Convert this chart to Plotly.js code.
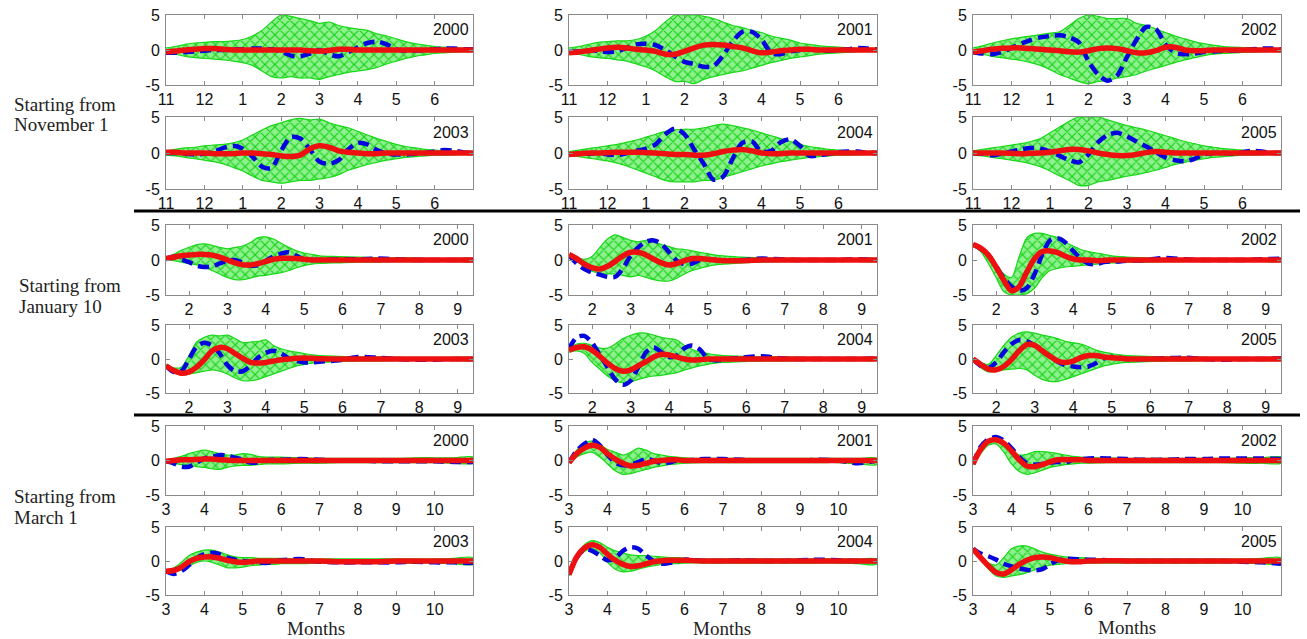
<!DOCTYPE html>
<html><head><meta charset="utf-8">
<script src="https://cdn.plot.ly/plotly-3.0.1.min.js"></script>
<style>html,body{margin:0;padding:0;background:#fff}#c{width:1307px;height:639px}</style>
</head><body><div id="c"></div>
<script>
// sample positions (months)
const xNov=[0,0.25,0.5,0.75,1,1.25,1.5,1.75,2,2.25,2.5,2.75,3,3.25,3.5,3.75,4,4.25,4.5,4.75,5,5.25,5.5,5.75,6,6.25,6.5,6.75,7,7.25,7.5,7.75,8];
const xJan=[1.4,1.6,1.8,2.0,2.2,2.4,2.6,2.8,3.0,3.2,3.4,3.6,3.8,4.0,4.2,4.4,4.6,4.8,5.0,5.2,5.4,5.9,6.4,6.9,7.4,7.9,8.4,8.9,9.4];
const xMar=[3.0,3.2,3.4,3.6,3.8,4.0,4.2,4.4,4.6,4.8,5.0,5.2,5.4,5.6,5.8,6.0,6.5,7.0,7.5,8.0,8.5,9.0,9.5,10.0,10.5,11.0];
// tick labels
const novTickVals=[0,1,2,3,4,5,6,7];
const novTickText=['11','12','1','2','3','4','5','6'];
const janTickVals=[2,3,4,5,6,7,8,9];
const janTickText=['2','3','4','5','6','7','8','9'];
const marTickVals=[3,4,5,6,7,8,9,10];
const marTickText=['3','4','5','6','7','8','9','10'];
const yTickVals=[-5,0,5];
const yTickText=['-5','0','5'];
const years=['2000','2001','2002','2003','2004','2005'];
const groupLabels=[['Starting from','November 1'],['Starting from','January 10'],['Starting from','March 1']];

// ---- Starting from November 1 ----
const red_nov_2000=[-0.3,-0.15,0,0.1,0.2,0.2,0.1,0,0,0,0,0,0,0,0,-0.1,-0.15,-0.05,0.1,0.1,0,0,0,0,0,0,0,0,0,0,0,0,0];
const blue_nov_2000=[-0.4,-0.4,-0.3,-0.2,-0.1,0,0,0.1,0.1,0.2,0.2,0.1,-0.2,-0.8,-0.9,-0.5,0,-0.6,-0.9,-0.3,0.4,1.0,1.2,0.8,0.1,-0.1,-0.1,0,0.1,0.2,0.2,0.1,0.1];
const up_nov_2000=[0.3,0.5,0.8,1.0,1.1,1.2,1.2,1.3,1.5,2,2.8,4,5,4.8,4.5,4.2,3.8,4,3.5,3.2,3,2.8,2.3,2,1.6,1.2,0.9,0.7,0.5,0.4,0.3,0.25,0.2];
const lo_nov_2000=[-0.4,-0.6,-0.9,-1.1,-1.2,-1.3,-1.4,-1.6,-1.8,-2.2,-3,-3.8,-4,-3.8,-4,-4,-4.2,-3.8,-3.5,-3.2,-3,-2.8,-2.5,-2,-1.6,-1.2,-0.9,-0.7,-0.5,-0.4,-0.3,-0.25,-0.2];

const red_nov_2001=[-0.4,-0.3,-0.1,0.1,0.3,0.4,0.3,0.1,0,-0.2,-0.6,-0.6,-0.2,0.3,0.7,0.8,0.7,0.5,0.3,-0.1,-0.4,-0.3,-0.1,0,0.1,0.1,0,0,0,0,0,0,0];
const blue_nov_2001=[-0.3,-0.2,-0.1,-0.1,-0.3,-0.2,0.3,0.8,0.9,0.7,0,-0.9,-1.7,-2.0,-2.4,-2.3,-0.8,1.2,2.6,2.6,1.5,-0.4,-0.6,-0.2,0,0.1,0,-0.1,0,0.1,0.3,0.2,0.1];
const up_nov_2001=[0.3,0.5,0.8,1.1,1.2,1.3,1.3,1.5,2,2.8,4,5,5,5,4.8,4.5,4,3.5,3.2,2.8,2.5,2,1.7,1.4,1,0.8,0.6,0.5,0.4,0.3,0.25,0.2,0.2];
const lo_nov_2001=[-0.4,-0.6,-0.9,-1.1,-1.2,-1.4,-1.6,-2,-2.4,-3,-3.8,-4.5,-4.5,-4.8,-4.2,-3.8,-3.5,-3.2,-3,-2.6,-2.2,-1.8,-1.5,-1.2,-1,-0.8,-0.6,-0.5,-0.4,-0.3,-0.25,-0.2,-0.2];

const red_nov_2002=[-0.3,-0.1,0.1,0.25,0.3,0.3,0.2,0.1,0,-0.1,-0.25,-0.3,-0.1,0.2,0.3,0.2,-0.1,-0.4,-0.4,-0.1,0.4,0.4,0,-0.1,-0.1,0,0,0,0,0,0,0,0];
const blue_nov_2002=[-0.3,-0.5,-0.6,-0.3,0.3,0.9,1.4,1.8,2.0,2.1,1.8,1.1,-1.6,-3.5,-4.4,-3.6,-1.0,1.5,3.3,3.0,0.8,-0.4,-0.6,-0.5,-0.3,-0.2,-0.1,-0.1,0,0.1,0.2,0.2,0.1];
const up_nov_2002=[0.3,0.6,1,1.3,1.6,1.8,2,2.2,2.4,2.6,3.5,4.5,5,4.8,4.5,4.5,4.5,3.8,3.5,3,2.5,2,1.6,1.2,0.9,0.7,0.5,0.4,0.35,0.3,0.25,0.2,0.2];
const lo_nov_2002=[-0.4,-0.6,-0.9,-1.1,-1.3,-1.5,-1.8,-2.2,-2.8,-3.5,-4,-4.5,-4.8,-4.5,-4.3,-4,-3.8,-3.5,-3,-2.6,-2.2,-1.8,-1.4,-1.1,-0.8,-0.6,-0.5,-0.4,-0.35,-0.3,-0.25,-0.2,-0.2];

const red_nov_2003=[0.1,0.1,0,0,0,-0.1,-0.1,-0.1,0,0,-0.1,-0.2,-0.4,-0.5,-0.3,0.6,1.0,0.8,0.3,0.1,0,-0.1,-0.1,0,0,0,0,0,0,0,0,0,0];
const blue_nov_2003=[0,0,-0.1,-0.2,-0.1,0.2,0.7,1.0,0.6,-0.5,-1.9,-2.1,0.3,2.2,2.0,0.5,-1.2,-1.5,-1.0,0.5,1.4,1.2,0.4,-0.1,-0.2,-0.2,-0.1,0,0.2,0.4,0.3,0.1,0];
const up_nov_2003=[0.3,0.5,0.7,0.8,1,1.1,1.2,1.4,1.8,2.5,3.2,3.8,4.2,4.6,4.8,4.6,4.7,4.2,3.8,3.5,3,2.5,2,1.6,1.2,0.9,0.7,0.5,0.4,0.3,0.25,0.2,0.2];
const lo_nov_2003=[-0.3,-0.4,-0.6,-0.8,-1,-1.2,-1.5,-2,-2.5,-3.2,-3.8,-4,-4.2,-4,-3.8,-3.8,-3.6,-3.4,-3,-2.4,-2,-1.6,-1.3,-1,-0.8,-0.6,-0.5,-0.4,-0.3,-0.3,-0.25,-0.2,-0.2];

const red_nov_2004=[-0.2,-0.1,0,0,0.05,0.1,0.1,0.1,0.05,0,-0.1,-0.2,-0.2,-0.3,-0.3,-0.1,0.2,0.4,0.5,0.3,0,-0.1,-0.1,0,0,0,0,0,0,0,0,0,0];
const blue_nov_2004=[-0.2,-0.1,-0.1,0,-0.2,-0.3,0,0.3,0.6,1.2,2.6,3.4,2.6,0.5,-1.5,-3.7,-3.3,-0.8,1.4,1.6,0.2,0.3,1.5,1.9,1.0,-0.4,-0.3,-0.1,0.1,0.2,0.2,0,0];
const up_nov_2004=[0.2,0.4,0.6,0.8,1,1.2,1.5,1.8,2.2,2.6,3,3.2,3.3,3.3,3.5,3.8,4,3.8,3.5,3.2,2.8,2.4,2,1.6,1.2,0.9,0.7,0.5,0.4,0.3,0.25,0.2,0.2];
const lo_nov_2004=[-0.3,-0.5,-0.7,-0.9,-1.1,-1.4,-1.8,-2.3,-2.8,-3.3,-3.8,-4,-4,-4,-3.8,-3.8,-3.4,-3,-2.6,-2.2,-1.8,-1.5,-1.2,-1,-0.8,-0.6,-0.5,-0.4,-0.3,-0.3,-0.25,-0.2,-0.2];

const red_nov_2005=[0,0,0,0,-0.05,-0.1,-0.05,0,0.1,0.3,0.5,0.5,0.3,0,-0.2,-0.35,-0.35,-0.2,0.05,0.2,0.1,0,0,0,0,0,0,0,0,0,0,0,0];
const blue_nov_2005=[0,-0.1,-0.3,-0.1,0.2,0.5,0.7,0.6,0.2,-0.4,-1.0,-1.3,-0.2,1.5,2.5,2.8,2.3,1.6,0.9,0.1,-0.6,-1.0,-1.15,-0.8,-0.2,0,0,-0.1,0.1,0.3,0.2,0,0];
const up_nov_2005=[0.3,0.5,0.7,0.9,1.1,1.3,1.6,2,2.8,3.6,4.4,5,5,5,4.6,4.2,3.8,3.5,3.2,2.8,2.4,2,1.6,1.3,1,0.8,0.6,0.5,0.4,0.3,0.25,0.2,0.2];
const lo_nov_2005=[-0.3,-0.4,-0.6,-0.8,-1,-1.2,-1.5,-1.9,-2.5,-3.2,-3.8,-4.5,-4.5,-4,-3.8,-3.5,-3.2,-3,-2.7,-2.4,-2,-1.6,-1.3,-1,-0.8,-0.6,-0.5,-0.4,-0.3,-0.3,-0.25,-0.2,-0.2];

// ---- Starting from January 10 ----
const red_jan_2000=[0.2,0.4,0.6,0.7,0.8,0.8,0.7,0.4,0,-0.4,-0.7,-0.7,-0.5,-0.2,0.1,0.25,0.25,0.2,0.1,0,0,0,0,0,0,0,0,0,0];
const blue_jan_2000=[0.2,0.45,0.1,-0.3,-0.8,-1.0,-0.9,-0.5,-0.1,0,-0.4,-0.8,-0.7,-0.1,0.5,0.9,1.1,0.6,0.1,0,0,0.1,0.1,0.2,0.1,0,0,0,0];
const up_jan_2000=[0.3,0.8,1.4,1.8,2.2,2.3,2.1,1.8,1.6,1.8,2.0,2.5,3.2,3.3,3.0,2.4,1.8,1.3,1.0,0.8,0.6,0.5,0.4,0.35,0.3,0.3,0.2,0.2,0.2];
const lo_jan_2000=[0.1,-0.1,-0.3,-0.5,-0.7,-1.0,-1.5,-2.0,-2.5,-2.8,-2.8,-2.6,-2.3,-2.2,-2.0,-1.8,-1.5,-1.1,-0.8,-0.6,-0.5,-0.4,-0.3,-0.3,-0.25,-0.25,-0.2,-0.2,-0.2];

const red_jan_2001=[0.8,0.2,-0.6,-1.1,-1.3,-0.9,-0.2,0.6,1.1,1.1,0.7,0.1,-0.4,-0.7,-0.5,-0.1,0.2,0.2,0.1,0,-0.1,-0.1,0,0,0,0,0,0,0];
const blue_jan_2001=[0.7,-0.5,-1.3,-1.8,-2.1,-2.4,-2.4,-1.2,0.6,1.8,2.6,2.8,2.3,1.1,-0.1,-0.6,-0.5,0,0.1,0,-0.1,0,0.2,0.1,0,0,0,0.1,0];
const up_jan_2001=[0.8,0.4,0.1,0.5,1.8,3.0,3.6,3.2,2.8,2.6,2.8,2.6,2.2,1.9,1.6,1.5,1.3,1.1,0.9,0.7,0.6,0.4,0.3,0.25,0.2,0.2,0.2,0.2,0.2];
const lo_jan_2001=[0.6,-0.2,-1.0,-1.6,-1.9,-2.0,-2.0,-2.2,-2.4,-2.2,-2.5,-2.8,-3.0,-3.0,-2.6,-2.0,-1.5,-1.2,-0.9,-0.7,-0.6,-0.4,-0.3,-0.25,-0.2,-0.2,-0.2,-0.2,-0.2];

const red_jan_2002=[2.2,1.7,0.7,-1.0,-2.9,-4.4,-3.8,-1.7,0.2,1.2,1.3,1.05,0.55,0.15,0,0,-0.1,-0.05,0,0,0,0,0,0,0,0,0,0,0];
const blue_jan_2002=[2.2,1.6,0.7,-0.9,-2.6,-3.8,-4.4,-4.0,-2.0,0.8,2.8,3.1,2.5,1.3,0.2,-0.5,-0.6,-0.3,-0.2,-0.2,-0.1,0,0.3,0.1,0,0,0,0.1,0.2];
const up_jan_2002=[2.3,1.9,1.0,-0.5,-2.0,-2.5,0.5,3.2,3.8,3.8,3.5,3.2,2.5,2.0,1.5,1.2,1.0,0.8,0.6,0.5,0.4,0.3,0.2,0.2,0.2,0.2,0.2,0.2,0.2];
const lo_jan_2002=[2.0,1.2,-0.5,-2.5,-4.5,-5,-5,-4.8,-4.0,-2.5,-1.5,-1.2,-1.0,-0.9,-0.8,-0.7,-0.6,-0.5,-0.4,-0.4,-0.3,-0.3,-0.25,-0.2,-0.2,-0.2,-0.2,-0.2,-0.2];

const red_jan_2003=[-1.0,-1.7,-2.1,-1.9,-1.2,-0.1,1.2,1.7,1.5,0.8,0.1,-0.5,-0.6,-0.5,-0.3,-0.1,0,0.1,0.15,0.1,0.05,0,0,0,0,0,0,0,0];
const blue_jan_2003=[-1.0,-1.9,-1.8,0.0,1.8,2.4,2.0,0.8,-0.9,-1.8,-1.8,-1.0,0.2,0.9,1.2,0.8,0.1,-0.3,-0.5,-0.5,-0.4,-0.2,0.3,0.2,0,-0.1,-0.1,0,0];
const up_jan_2003=[-0.8,-1.3,-1.2,0.5,2.5,3.2,3.5,3.4,3.5,3.0,2.4,2.5,2.6,2.8,2.0,1.5,1.2,1.0,0.8,0.6,0.5,0.4,0.3,0.3,0.25,0.2,0.2,0.2,0.2];
const lo_jan_2003=[-1.2,-2.0,-2.3,-2.2,-2.0,-1.8,-1.6,-1.8,-2.2,-2.8,-3.2,-3.2,-3.0,-2.6,-2.2,-1.8,-1.4,-1.0,-0.8,-0.6,-0.5,-0.4,-0.3,-0.3,-0.25,-0.2,-0.2,-0.2,-0.2];

const red_jan_2004=[1.3,1.7,1.8,1.3,0.4,-0.6,-1.4,-1.8,-1.6,-1.0,-0.4,0.3,0.7,0.6,0.3,0,-0.15,-0.1,0,0,0,0,0,0,0,0,0,0,0];
const blue_jan_2004=[1.5,3.2,3.4,2.4,0.6,-1.2,-3.0,-3.8,-3.2,-1.2,1.0,1.7,1.0,0.3,0.5,1.6,2.0,1.4,0.1,-0.2,-0.1,0.2,0.4,0.1,0,0,0,0,0.1];
const up_jan_2004=[1.5,2.2,2.3,2.0,1.6,1.6,2.2,3.0,3.5,3.8,3.8,3.5,3.2,3.0,2.8,2.0,1.4,1.0,0.8,0.6,0.5,0.4,0.3,0.3,0.25,0.2,0.2,0.2,0.2];
const lo_jan_2004=[1.0,1.2,0.8,-0.5,-1.5,-2.5,-3.2,-3.5,-3.4,-3.0,-2.7,-2.5,-2.4,-2.2,-2.0,-1.6,-1.3,-1.0,-0.8,-0.6,-0.5,-0.4,-0.3,-0.3,-0.25,-0.2,-0.2,-0.2,-0.2];

const red_jan_2005=[0,-0.8,-1.5,-1.6,-1.1,-0.1,1.2,2.1,2.0,1.2,0.4,-0.3,-0.5,-0.3,0.2,0.5,0.5,0.3,0.2,0.1,0,0,0,0,0,0,0,0,0];
const blue_jan_2005=[0,-1.0,-1.3,-0.5,1.0,2.2,2.8,2.6,2.0,1.2,0.4,-0.4,-0.9,-1.1,-1.2,-1.1,-0.6,0.1,0.3,0.2,0,0,0.1,0.2,0,-0.1,0,0,0.1];
const up_jan_2005=[0.1,-0.5,-0.8,0.5,2.0,3.2,3.8,4.0,3.8,3.5,3.3,3.0,2.6,2.4,2.2,1.8,1.3,1.0,0.8,0.6,0.5,0.4,0.3,0.3,0.25,0.2,0.2,0.2,0.2];
const lo_jan_2005=[-0.2,-1.3,-1.9,-1.8,-1.6,-1.5,-1.4,-1.6,-2.4,-3.0,-3.3,-3.3,-3.0,-2.6,-2.2,-1.8,-1.4,-1.0,-0.8,-0.6,-0.5,-0.4,-0.3,-0.3,-0.25,-0.2,-0.2,-0.2,-0.2];

// ---- Starting from March 1 ----
const red_mar_2000=[-0.1,0,0.1,0.1,0.15,0.2,0.2,0.1,0.05,0,0,0,0,0,0,0,0,0,0,0,0,0,0,0,0,0];
const blue_mar_2000=[-0.1,-0.4,-0.9,-0.9,-0.3,0.3,0.5,0.8,0.7,0.4,0.1,-0.3,-0.3,0,0.1,0.1,0.2,0.1,0,0,-0.1,-0.1,-0.1,-0.1,-0.2,-0.2];
const up_mar_2000=[0.1,0.3,0.6,1.0,1.3,1.5,1.3,1.0,0.8,0.8,1.0,0.9,0.6,0.5,0.5,0.5,0.4,0.3,0.3,0.3,0.3,0.3,0.4,0.4,0.4,0.5];
const lo_mar_2000=[-0.2,-0.4,-0.6,-0.7,-0.9,-1.0,-1.2,-1.3,-1.0,-0.8,-0.7,-0.7,-0.6,-0.5,-0.5,-0.5,-0.4,-0.4,-0.3,-0.3,-0.3,-0.3,-0.3,-0.3,-0.4,-0.4];

const red_mar_2001=[-0.3,1.0,1.8,2.2,1.9,1.0,0.2,-0.4,-0.8,-0.7,-0.4,-0.1,0,0.1,0.1,0,0,0,0,0,0,0,0,0,0,0];
const blue_mar_2001=[-0.3,1.4,2.4,3.0,2.2,0.8,-0.3,-0.7,-0.6,-0.2,0.2,0,-0.4,-0.3,0,0,0.2,0.2,0.1,0,0,0,0.1,0,-0.4,0];
const up_mar_2001=[-0.2,1.5,2.5,2.8,2.3,1.6,1.2,0.8,1.2,1.8,1.5,1.0,0.8,0.6,0.5,0.4,0.3,0.3,0.3,0.3,0.3,0.3,0.3,0.3,0.3,0.3];
const lo_mar_2001=[-0.4,0.5,1.0,1.2,0.5,-0.5,-1.5,-2.0,-1.9,-1.6,-1.3,-1.0,-0.8,-0.6,-0.5,-0.4,-0.3,-0.3,-0.3,-0.3,-0.3,-0.3,-0.3,-0.3,-0.5,-0.6];

const red_mar_2002=[-0.5,1.6,2.8,3.0,2.5,1.4,0.1,-0.8,-0.9,-0.6,-0.2,0.1,0.15,0.1,0.1,0,0,0,0,0,0,0,0,0,0,0];
const blue_mar_2002=[-0.5,2.0,3.1,3.4,2.9,1.8,0.5,-0.4,-0.6,-0.5,-0.3,-0.2,-0.3,0.1,0.2,0.3,0.3,0.2,0.1,0.1,0.2,0.2,0.3,0.3,0.3,0.2];
const up_mar_2002=[-0.4,1.8,3.0,3.2,2.8,1.6,0.8,0.9,1.3,1.3,1.2,1.0,0.8,0.6,0.5,0.4,0.4,0.3,0.3,0.3,0.3,0.3,0.3,0.4,0.4,0.5];
const lo_mar_2002=[-0.6,1.0,2.2,2.4,1.2,-0.5,-1.6,-2.0,-1.8,-1.4,-1.0,-0.8,-0.6,-0.5,-0.4,-0.4,-0.3,-0.3,-0.3,-0.3,-0.3,-0.3,-0.3,-0.4,-0.4,-0.4];

const red_mar_2003=[-1.5,-1.4,-0.9,-0.1,0.4,0.6,0.6,0.4,0.1,-0.1,-0.2,-0.1,0,0,0,0,0,0,-0.1,-0.1,-0.1,0,0,0,0,0];
const blue_mar_2003=[-1.5,-1.9,-1.5,-0.6,0.4,1.0,1.2,1.0,0.5,0.2,0,-0.1,-0.2,-0.3,-0.1,0.1,0.3,-0.1,-0.2,-0.2,-0.2,-0.2,-0.1,-0.2,-0.2,-0.3];
const up_mar_2003=[-1.4,-1.0,-0.2,0.8,1.3,1.6,1.6,1.3,0.9,0.6,0.5,0.5,0.4,0.4,0.4,0.4,0.3,0.3,0.3,0.3,0.3,0.3,0.3,0.3,0.4,0.5];
const lo_mar_2003=[-1.8,-1.6,-1.3,-0.7,-0.2,0,-0.2,-0.6,-1.0,-1.0,-0.9,-0.7,-0.6,-0.5,-0.5,-0.4,-0.4,-0.3,-0.3,-0.3,-0.3,-0.3,-0.3,-0.3,-0.4,-0.5];

const red_mar_2004=[-2.0,0.6,1.9,2.4,2.0,1.0,0.1,-0.5,-0.8,-0.7,-0.4,-0.1,0.05,0.1,0.1,0.1,0,0,0,0,0,0,0,0,0,0];
const blue_mar_2004=[-2.0,0.5,1.7,1.5,0.8,0.1,0.4,1.5,2.0,1.8,0.8,0,-0.4,-0.3,-0.1,0.2,0,0,0.1,0,0,0.1,0.2,0.1,0,0];
const up_mar_2004=[-1.8,1.0,2.4,3.0,2.7,2.0,1.5,1.2,0.9,0.8,0.8,0.7,0.6,0.5,0.5,0.4,0.3,0.3,0.3,0.3,0.3,0.3,0.3,0.3,0.3,0.3];
const lo_mar_2004=[-2.2,0.2,1.4,1.8,1.2,-0.2,-1.2,-1.6,-1.5,-1.2,-0.9,-0.7,-0.5,-0.4,-0.4,-0.3,-0.3,-0.3,-0.3,-0.3,-0.3,-0.3,-0.3,-0.3,-0.4,-0.5];

const red_mar_2005=[1.8,0.5,-0.7,-1.7,-1.9,-1.3,-0.5,0.1,0.5,0.6,0.5,0.2,0,-0.1,-0.1,0,0.05,0,0,0,0,0,0,0,0,0];
const blue_mar_2005=[1.8,1.1,0.7,0.2,-0.4,-0.8,-1.1,-1.3,-1.4,-1.2,-0.5,0.1,0.3,0.3,0.2,0.2,0.1,0,0,0,0,0,0,-0.1,-0.2,-0.4];
const up_mar_2005=[1.9,0.6,-0.3,-0.6,0.5,1.8,2.2,2.2,1.8,1.3,1.0,0.8,0.6,0.5,0.5,0.4,0.3,0.3,0.3,0.3,0.3,0.3,0.3,0.3,0.4,0.5];
const lo_mar_2005=[1.7,0.2,-1.2,-2.2,-2.4,-2.2,-2.0,-1.7,-1.3,-0.9,-0.6,-0.5,-0.4,-0.4,-0.3,-0.3,-0.3,-0.3,-0.3,-0.3,-0.3,-0.3,-0.3,-0.3,-0.4,-0.4];

// ---- assembly ----
const groups={
  nov:{x:xNov,range:[0,8],tv:novTickVals,tt:novTickText},
  jan:{x:xJan,range:[1.4,9.4],tv:janTickVals,tt:janTickText},
  mar:{x:xMar,range:[3,11],tv:marTickVals,tt:marTickText}
};
const panels=[
  ['nov',red_nov_2000,blue_nov_2000,up_nov_2000,lo_nov_2000],
  ['nov',red_nov_2001,blue_nov_2001,up_nov_2001,lo_nov_2001],
  ['nov',red_nov_2002,blue_nov_2002,up_nov_2002,lo_nov_2002],
  ['nov',red_nov_2003,blue_nov_2003,up_nov_2003,lo_nov_2003],
  ['nov',red_nov_2004,blue_nov_2004,up_nov_2004,lo_nov_2004],
  ['nov',red_nov_2005,blue_nov_2005,up_nov_2005,lo_nov_2005],
  ['jan',red_jan_2000,blue_jan_2000,up_jan_2000,lo_jan_2000],
  ['jan',red_jan_2001,blue_jan_2001,up_jan_2001,lo_jan_2001],
  ['jan',red_jan_2002,blue_jan_2002,up_jan_2002,lo_jan_2002],
  ['jan',red_jan_2003,blue_jan_2003,up_jan_2003,lo_jan_2003],
  ['jan',red_jan_2004,blue_jan_2004,up_jan_2004,lo_jan_2004],
  ['jan',red_jan_2005,blue_jan_2005,up_jan_2005,lo_jan_2005],
  ['mar',red_mar_2000,blue_mar_2000,up_mar_2000,lo_mar_2000],
  ['mar',red_mar_2001,blue_mar_2001,up_mar_2001,lo_mar_2001],
  ['mar',red_mar_2002,blue_mar_2002,up_mar_2002,lo_mar_2002],
  ['mar',red_mar_2003,blue_mar_2003,up_mar_2003,lo_mar_2003],
  ['mar',red_mar_2004,blue_mar_2004,up_mar_2004,lo_mar_2004],
  ['mar',red_mar_2005,blue_mar_2005,up_mar_2005,lo_mar_2005]
];

const W=1307,H=639;
const colL=[166,569,973], colR=[473,877,1281];
const rowT=[15,117,225,325,426,527], rowB=[85,189,295,393,495,595];

const data=[];
const layout={width:W,height:H,margin:{l:0,r:0,t:0,b:0},autosize:false,
  paper_bgcolor:'#fff',plot_bgcolor:'#fff',showlegend:false,
  annotations:[],shapes:[]};
const sans='"Liberation Sans", Arial, sans-serif';
const serif='"Liberation Serif", "Times New Roman", serif';
const tickFont={family:sans,size:16,color:'#111'};

panels.forEach((p,k)=>{
  const g=groups[p[0]];
  const r=Math.floor(k/3), c=k%3;
  const n=k+1, xa='x'+(n===1?'':n), ya='y'+(n===1?'':n);
  const xk='xaxis'+(n===1?'':n), yk='yaxis'+(n===1?'':n);
  const red=p[1], blue=p[2], up=p[3], lo=p[4];
  const xs=g.x;
  data.push({x:xs.concat(xs.slice().reverse()), y:up.concat(lo.slice().reverse()),
    xaxis:xa,yaxis:ya,type:'scatter',mode:'lines',fill:'toself',
    fillcolor:'rgba(100,235,100,0.8)',
    fillpattern:{shape:'x',fgcolor:'#12d012',bgcolor:'rgba(130,240,130,0.9)',size:7,solidity:0.3},
    line:{color:'#18d818',width:1.2,shape:'spline',smoothing:0.8},hoverinfo:'skip'});
  data.push({x:xs,y:blue,xaxis:xa,yaxis:ya,type:'scatter',mode:'lines',
    line:{color:'#0505dd',width:4.5,dash:'11px,6px',shape:'spline',smoothing:0.8},hoverinfo:'skip'});
  data.push({x:xs,y:red,xaxis:xa,yaxis:ya,type:'scatter',mode:'lines',
    line:{color:'#ee1010',width:5.5,shape:'spline',smoothing:0.8},hoverinfo:'skip'});
  const axCommon={showline:true,mirror:'ticks',linecolor:'#8a8a8a',linewidth:1,
    ticks:'inside',ticklen:4,tickcolor:'#8a8a8a',showgrid:false,zeroline:false,
    tickfont:tickFont,fixedrange:true};
  layout[xk]=Object.assign({},axCommon,{domain:[colL[c]/W,colR[c]/W],anchor:ya,
    range:g.range,tickmode:'array',tickvals:g.tv,ticktext:g.tt,ticklabelstandoff:0});
  layout[yk]=Object.assign({},axCommon,{domain:[1-rowB[r]/H,1-rowT[r]/H],anchor:xa,
    range:[-5,5],tickmode:'array',tickvals:yTickVals,ticktext:yTickText,ticklabelstandoff:2});
  layout.annotations.push({xref:xa+' domain',yref:ya+' domain',x:0.995,y:0.79,
    xanchor:'right',yanchor:'middle',showarrow:false,text:years[(r%2)*3+c],
    font:{family:sans,size:16,color:'#111'}});
});

// row group labels (two lines each)
const labelY=[[104,125],[285,306],[496,517]], labelX=[12,17,12];
groupLabels.forEach((lines,i)=>{
  lines.forEach((t,j)=>{
    layout.annotations.push({xref:'paper',yref:'paper',x:labelX[i]/W,y:1-labelY[i][j]/H,
      xanchor:'left',yanchor:'middle',align:'left',showarrow:false,text:t,
      font:{family:serif,size:19,color:'#222'}});
  });
});
// x-axis titles
const monthsX=[316,722,1127], monthsY=[628,628,627];
monthsX.forEach((mx,i)=>{
  layout.annotations.push({xref:'paper',yref:'paper',x:mx/W,y:1-monthsY[i]/H,
    xanchor:'center',yanchor:'middle',showarrow:false,text:'Months',
    font:{family:serif,size:19,color:'#222'}});
});
// separators
[211,415].forEach(yy=>{
  layout.shapes.push({type:'line',xref:'paper',yref:'paper',x0:134/W,x1:1300/W,
    y0:1-yy/H,y1:1-yy/H,line:{color:'#000',width:3}});
});

Plotly.newPlot('c',data,layout,{staticPlot:true,displayModeBar:false});
</script>
</body></html>
